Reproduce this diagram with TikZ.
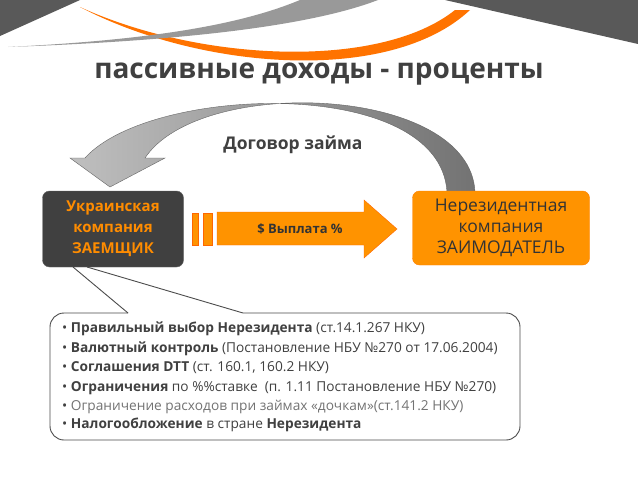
\documentclass[tikz,border=0pt]{standalone}
\usepackage{fontspec}
\setmainfont{Open Sans}
\begin{document}
\begin{tikzpicture}[x=1pt,y=-1pt,
  txt/.style={font=\fontsize{13.7}{19.5}\selectfont, text=black!75},
  box/.style={rounded corners=7pt, minimum width=141pt, minimum height=76pt, align=center, font=\bfseries\fontsize{15}{21}\selectfont}]
\useasboundingbox (0,0) rectangle (638,479);
\fill[white] (0,0) rectangle (638,479);
% top decoration
\fill[black!65] (0,0) -- (80,0) -- (0,36) -- cycle;
\fill[black!65] (445,0) -- (638,0) -- (638,44) -- cycle;
\fill[orange!90!red] (80,7) .. controls (200,70) and (390,85) .. (470,10) -- (455,10) .. controls (380,70) and (200,62) .. (80,7) -- cycle;
\fill[black!40] (8,47) .. controls (150,42) and (300,30) .. (378,0) -- (300,0) .. controls (240,25) and (150,40) .. (8,47) -- cycle;
% title
\node[font=\bfseries\fontsize{28}{30}\selectfont, text=black!75] (title) at (319,74) {пассивные доходы - проценты};
% curved arrow
\shade[left color=black!25, right color=black!55, draw=black!60, line width=0.4pt]
  (475,192) .. controls (470,85) and (200,75) .. (145,158)
  -- (165,158) -- (110,187) -- (70,158) -- (85,158)
  .. controls (150,85) and (440,75) .. (447,192) -- cycle;
\node[font=\bfseries\fontsize{17.5}{20}\selectfont, text=black!75] (contract) at (293,145) {Договор займа};
% boxes
\node[box, fill=black!75, text=orange!90!yellow, draw=black!60] (left) at (113,229) {Украинская\\компания\\ЗАЕМЩИК};
\node[box, fill=orange!85!yellow, text=black!80, font=\fontsize{17.5}{21}\selectfont, minimum width=177pt, minimum height=74pt, draw=orange] (right) at (501,228) {Нерезидентная\\компания\\ЗАИМОДАТЕЛЬ};
% payment arrow
\fill[orange!85!yellow, draw=orange!80!red] (192,213) rectangle (198,245);
\fill[orange!85!yellow, draw=orange!80!red] (203,213) rectangle (212,245);
\fill[orange!85!yellow, draw=orange!80!red] (217,212) -- (364,212) -- (364,200) -- (397,229) -- (364,258) -- (364,245) -- (217,245) -- cycle;
\node[font=\bfseries\fontsize{13}{15}\selectfont, text=black!80] (pay) at (300,229) {\$ Выплата \%};
% callout
\coordinate (p1) at (73,267);
\coordinate (p2) at (87,267);
\draw[black!70, line width=0.9pt] (128,313) -- (p1) (p2) -- (243,313);
\draw[black!70, line width=0.9pt, rounded corners=14pt] (128,313) -- (50,313) -- (50,440) -- (520,440) -- (520,313) -- (243,313);
\node[txt, anchor=north west, align=left, inner sep=0pt] (list) at (62,322) {%
• \textbf{Правильный выбор Нерезидента} (ст.14.1.267 НКУ)\\
• \textbf{Валютный контроль} (Постановление НБУ №270 от 17.06.2004)\\
• \textbf{Соглашения DTT} (ст. 160.1, 160.2 НКУ)\\
• \textbf{Ограничения} по \%\%ставке~ (п. 1.11 Постановление НБУ №270)\\
• {\color{black!55}Ограничение расходов при займах «дочкам»(ст.141.2 НКУ)}\\[-2pt]
• \textbf{Налогообложение} в стране \textbf{Нерезидента}};
\end{tikzpicture}
\end{document}
